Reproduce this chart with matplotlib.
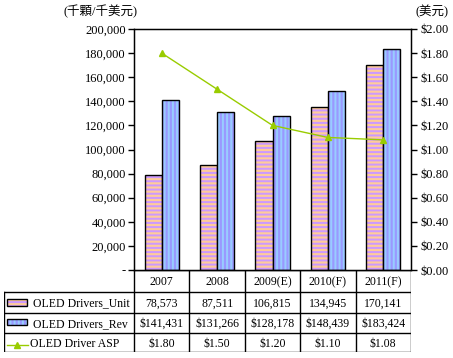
import matplotlib
matplotlib.use('Agg')
import matplotlib.pyplot as plt
import numpy as np

plt.rcParams['font.family'] = ['Liberation Serif', 'Noto Sans CJK TC']
plt.rcParams['hatch.linewidth'] = 1.44

# data
years = ['2007', '2008', '2009(E)', '2010(F)', '2011(F)']
unit = [78573, 87511, 106815, 134945, 170141]
rev = [141431, 131266, 128178, 148439, 183424]
asp = [1.80, 1.50, 1.20, 1.10, 1.08]
left_ticks = [0, 20000, 40000, 60000, 80000, 100000, 120000, 140000, 160000, 180000, 200000]
right_ticks = [0.0, 0.2, 0.4, 0.6, 0.8, 1.0, 1.2, 1.4, 1.6, 1.8, 2.0]
row_names = ['OLED Drivers_Unit', 'OLED Drivers_Rev', 'OLED Driver ASP']

W, H = 453, 358
fig = plt.figure(figsize=(W / 100, H / 100), dpi=100)

def px(l, t, r, b):
    return [l / W, 1 - b / H, (r - l) / W, (b - t) / H]

ax = fig.add_axes(px(134, 29, 411, 270))
x = np.arange(len(years))
bw = 0.31
pink_a, pink_b = '#FFCC99', '#CC99FF'
blue_a, blue_b = '#9999FF', '#99CCFF'

ax.bar(x - bw / 2, unit, bw, color=pink_a, edgecolor=pink_b, hatch='----', linewidth=0)
ax.bar(x - bw / 2, unit, bw, facecolor='none', edgecolor='black', linewidth=1)
ax.bar(x + bw / 2, rev, bw, color=blue_a, edgecolor=blue_b, hatch='||||', linewidth=0)
ax.bar(x + bw / 2, rev, bw, facecolor='none', edgecolor='black', linewidth=1)

ax.set_xlim(-0.5, 4.5)
ax.set_ylim(0, 200000)
ax.set_yticks(left_ticks)
ax.set_yticklabels(['-'] + ['{:,}'.format(v) for v in left_ticks[1:]], fontsize=9)
ax.set_xticks([])
ax.tick_params(axis='y', direction='out', length=4, width=1, pad=2)
for s in ax.spines.values():
    s.set_linewidth(1)

ax2 = ax.twinx()
ax2.plot(x, asp, color='#99CC00', linewidth=1, marker='^', markersize=5)
ax2.set_ylim(0, 2)
ax2.set_yticks(right_ticks)
ax2.set_yticklabels(['${:.2f}'.format(v) for v in right_ticks], fontsize=9)
ax2.tick_params(axis='y', direction='out', length=4, width=1, pad=3)
ax2.set_xlim(-0.5, 4.5)

fig.text(100 / W, 1 - 12 / H, '(千顆/千美元)', ha='center', va='center', fontsize=9)
fig.text(432 / W, 1 - 12 / H, '(美元)', ha='center', va='center', fontsize=9)

# data table
tab = fig.add_axes(px(4, 270, 411, 352))
cw = (411 - 134) / 5.0
tab.set_xlim(-0.5 - 130 / cw, 4.5)
tab.set_ylim(82, 0)
tab.axis('off')
rows = [0, 22, 43, 63, 82]
lc = 'black'
xl = -0.5 - 130 / cw
# horizontal lines
tab.plot([-0.5, 4.5], [0, 0], color=lc, lw=1)
for r in rows[1:]:
    tab.plot([xl, 4.5], [r, r], color=lc, lw=1)
# vertical lines
for i in range(6):
    tab.plot([i - 0.5, i - 0.5], [0, 82], color=lc, lw=1)
tab.plot([xl, xl], [22, 82], color=lc, lw=1)

for i, y in enumerate(years):
    tab.text(i, 12, y, ha='center', va='center', fontsize=8.5)
    tab.text(i, 33.5, '{:,}'.format(unit[i]), ha='center', va='center', fontsize=8.5)
    tab.text(i, 54, '${:,}'.format(rev[i]), ha='center', va='center', fontsize=8.5)
    tab.text(i, 74, '${:.2f}'.format(asp[i]), ha='center', va='center', fontsize=8.5)

# legend keys
def kx(p):
    return xl + (p - 4) / cw

tab.bar(kx(17), 7, width=20 / cw, bottom=29, color=pink_a, edgecolor=pink_b, hatch='----', linewidth=0)
tab.bar(kx(17), 7, width=20 / cw, bottom=29, facecolor='none', edgecolor='black', linewidth=1)
tab.bar(kx(17), 6, width=20 / cw, bottom=49, color=blue_a, edgecolor=blue_b, hatch='||||', linewidth=0)
tab.bar(kx(17), 6, width=20 / cw, bottom=49, facecolor='none', edgecolor='black', linewidth=1)
tab.plot([kx(7), kx(28)], [74.5, 74.5], color='#99CC00', lw=1)
tab.plot([kx(17)], [74.5], marker='^', color='#99CC00', markersize=5)
tab.text(kx(33), 33.5, row_names[0], ha='left', va='center', fontsize=8.5)
tab.text(kx(33), 54, row_names[1], ha='left', va='center', fontsize=8.5)
tab.text(kx(30), 74, row_names[2], ha='left', va='center', fontsize=8.5)

fig.savefig('out.png', dpi=100)
